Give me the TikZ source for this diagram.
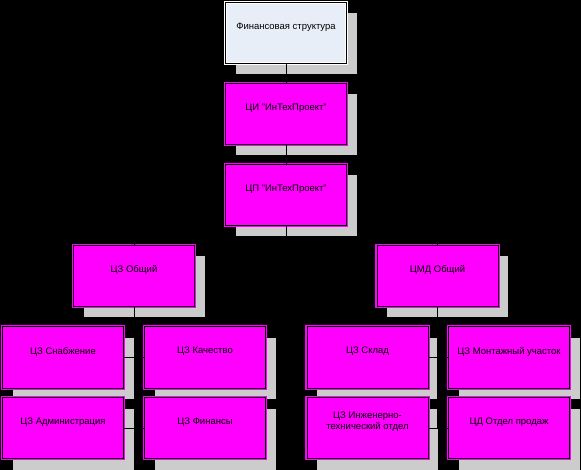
\documentclass[tikz,border=0pt]{standalone}
\usepackage{fontspec}
\setmainfont{Liberation Sans}
\usetikzlibrary{shadows}
\definecolor{mag}{RGB}{255,0,255}
\definecolor{shgray}{RGB}{204,204,204}
\definecolor{topfill}{RGB}{232,238,248}
\begin{document}
\begin{tikzpicture}[x=1pt,y=-1pt,
  box/.style={rectangle, minimum width=121pt, minimum height=61pt, inner sep=0pt,
    draw=mag, double=black, line width=1.1pt, double distance=1pt, fill=mag,
    general shadow={fill=shgray, draw=none, shadow xshift=10pt, shadow yshift=-11pt}},
  topbox/.style={box, draw=white, fill=topfill},
  lbl/.style={font=\fontsize{9.5}{11}\selectfont, text=black, align=center},
  conn/.style={draw=black, line width=1pt}]
\fill[black] (0,0) rectangle (581,470);
\useasboundingbox (0,0) rectangle (581,470);
% boxes
\node[topbox] (fin0) at (286,33) {};
\node[box] (ci) at (286,114) {};
\node[box] (cp) at (286,195) {};
\node[box] (cz) at (134,276) {};
\node[box] (cmd) at (437.5,276) {};
\node[box] (snab) at (63,357.5) {};
\node[box] (kach) at (205,357.5) {};
\node[box] (adm) at (63,428) {};
\node[box] (fins) at (205,428) {};
\node[box] (sklad) at (367.5,357.5) {};
\node[box] (mont) at (509,357.5) {};
\node[box] (ing) at (367.5,428) {};
\node[box] (prod) at (509,428) {};
% labels
\node[lbl] (t0) at ([yshift=6pt]fin0.center) {Финансовая структура};
\node[lbl] (t1) at ([yshift=6pt]ci.center) {ЦИ "ИнТехПроект"};
\node[lbl] (t2) at ([yshift=6pt]cp.center) {ЦП "ИнТехПроект"};
\node[lbl] (t3) at ([yshift=6pt]cz.center) {ЦЗ Общий};
\node[lbl] (t4) at ([yshift=6pt]cmd.center) {ЦМД Общий};
\node[lbl] (t5) at ([yshift=6pt]snab.center) {ЦЗ Снабжение};
\node[lbl] (t6) at ([yshift=6pt]kach.center) {ЦЗ Качество};
\node[lbl] (t7) at ([yshift=6pt]adm.center) {ЦЗ Администрация};
\node[lbl] (t8) at ([yshift=6pt]fins.center) {ЦЗ Финансы};
\node[lbl] (t9) at ([yshift=6pt]sklad.center) {ЦЗ Склад};
\node[lbl] (t10) at ([yshift=6pt]mont.center) {ЦЗ Монтажный участок};
\node[lbl] (t11) at ([yshift=6pt]ing.center) {ЦЗ Инженерно-\\технический отдел};
\node[lbl] (t12) at ([yshift=6pt]prod.center) {ЦД Отдел продаж};
% connectors
\draw[conn] (fin0.south) -- (ci.north);
\draw[conn] (ci.south) -- (cp.north);
\coordinate (j0) at (286,240);
\draw[conn] (cp.south) -- (j0);
\draw[conn] (j0) -| (cz.north);
\draw[conn] (j0) -| (cmd.north);
\draw[conn] (cz.south) -- ++(0,122) coordinate (jz);
\draw[conn] (snab.east) -- (kach.west);
\draw[conn] (adm.east) -- (fins.west);
\draw[conn] (cmd.south) -- ++(0,122) coordinate (jm);
\draw[conn] (sklad.east) -- (mont.west);
\draw[conn] (ing.east) -- (prod.west);
\end{tikzpicture}
\end{document}
